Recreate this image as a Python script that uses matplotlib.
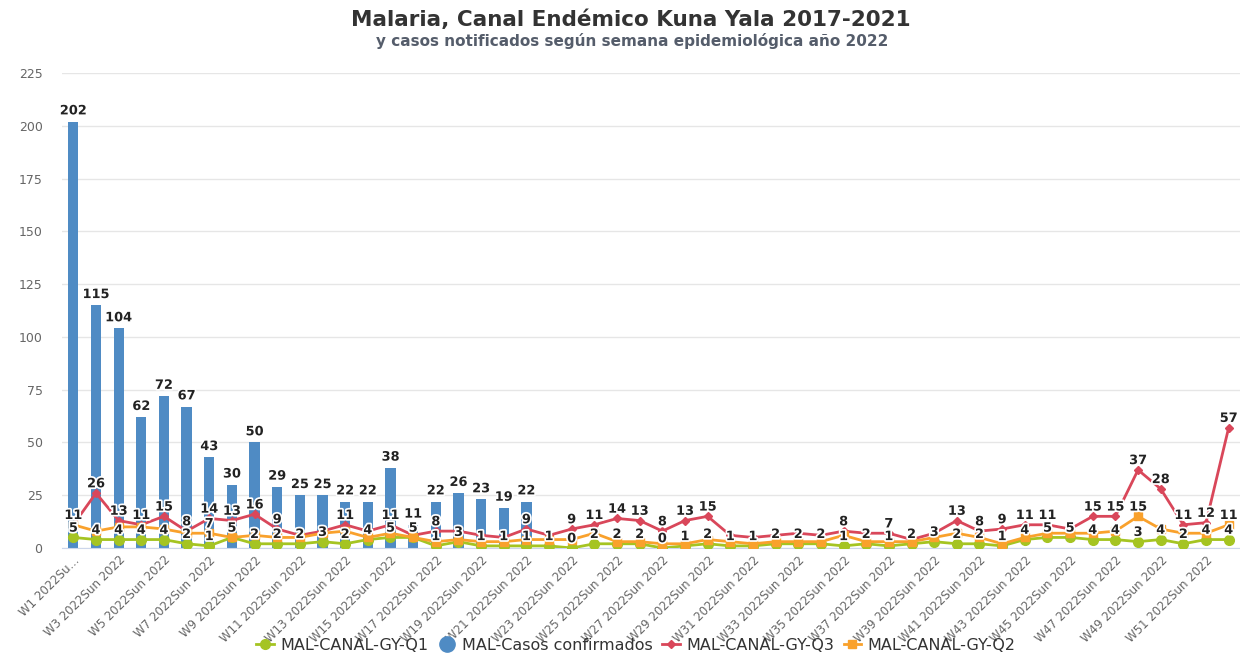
import numpy as np
import matplotlib.pyplot as plt
import matplotlib.patheffects as pe
from matplotlib.lines import Line2D

# categories
weeks = [f"W{i} 2022Sun 2022" for i in range(1, 53)]

# casos confirmados 2022 (only reported up to W21)
casos = [202, 115, 104, 62, 72, 67, 43, 30, 50, 29, 25, 25, 22, 22, 38, 11,
         22, 26, 23, 19, 22]

# canal endemico quartiles 2017-2021
q1 = [5, 4, 4, 4, 4, 2, 1, 5, 2, 2, 2, 3, 2, 4, 5, 5, 1, 3, 1, 1, 1, 1, 0, 2,
      2, 2, 0, 1, 2, 1, 1, 2, 2, 2, 1, 2, 1, 2, 3, 2, 2, 1, 4, 5, 5, 4, 4, 3,
      4, 2, 4, 4]
q2 = [11, 8, 10, 10, 9, 7, 7, 5, 6, 5, 5, 7, 8, 5, 7, 5, 3, 4, 3, 3, 4, 4, 4,
      7, 3, 3, 2, 2, 4, 3, 2, 3, 3, 3, 6, 3, 3, 3, 5, 7, 5, 2, 5, 7, 7, 7, 8,
      15, 9, 7, 7, 11]
q3 = [11, 26, 13, 11, 15, 8, 14, 13, 16, 9, 6, 8, 11, 8, 11, 6, 8, 8, 6, 5, 9,
      6, 9, 11, 14, 13, 8, 13, 15, 6, 5, 6, 7, 6, 8, 7, 7, 4, 7, 13, 8, 9, 11,
      11, 9, 15, 15, 37, 28, 11, 12, 57]

c_bar = "#4f8bc4"
c_q1 = "#a5c422"
c_q3 = "#d9475a"
c_q2 = "#f9a12c"

x = np.arange(len(weeks))

fig = plt.figure(figsize=(12.4, 6.54), dpi=100)
ax = fig.add_axes([62 / 1240, 1 - 548 / 654, 1 - 62 / 1240, (548 - 73) / 654])

ax.bar(x[:len(casos)], casos, width=0.45, color=c_bar, zorder=2)
ax.plot(x, q1, color=c_q1, lw=2, marker="o", ms=7, zorder=3)
ax.plot(x, q3, color=c_q3, lw=2, marker="D", ms=4.5, zorder=4)
ax.plot(x, q2, color=c_q2, lw=2, marker="s", ms=6, zorder=5)

ax.set_xlim(-0.5, len(weeks) - 0.5)
ax.set_ylim(0, 225)
ax.set_yticks(np.arange(0, 226, 25))
ax.grid(axis="y", color="#e6e6e6", lw=1, zorder=0)
for s in ["top", "right", "left"]:
    ax.spines[s].set_visible(False)
ax.spines["bottom"].set_color("#ccd6eb")
ax.tick_params(length=0)
ax.tick_params(axis="y", labelsize=9, labelcolor="#666666", pad=14)

xt = x[::2]
xl = [weeks[i] for i in xt]
xl[0] = "W1 2022Su…"
ax.set_xticks(xt)
ax.set_xticklabels(xl, rotation=45, ha="right", rotation_mode="anchor",
                   fontsize=8.5, color="#666666")
ax.tick_params(axis="x", pad=4)

# data labels, drawn in priority order and hidden if they collide
stroke = [pe.withStroke(linewidth=2.5, foreground="white")]
groups = []
for vals, off in [(q1, 2), (casos, 3), (q3, 2), (q2, 2)]:
    g = []
    for i, v in enumerate(vals):
        t = ax.annotate(str(v), (i, v), xytext=(0, off), textcoords="offset points",
                        ha="center", va="bottom", fontsize=9.3, fontweight="bold",
                        color="#222222", path_effects=stroke, zorder=10)
        g.append(t)
    groups.append(g)

fig.canvas.draw()
renderer = fig.canvas.get_renderer()
placed = []
for g in groups:
    for t in g:
        bb = t.get_window_extent(renderer)
        cx, cy = (bb.x0 + bb.x1) / 2, (bb.y0 + bb.y1) / 2
        hit = False
        for (px, py, pw) in placed:
            if abs(cx - px) < (bb.width + pw) / 2 and abs(cy - py) < 11.5:
                hit = True
                break
        if hit:
            t.set_visible(False)
        else:
            placed.append((cx, cy, bb.width))

fig.text(631 / 1240, 1 - 20 / 654, "Malaria, Canal Endémico Kuna Yala 2017-2021",
         ha="center", va="center", fontsize=15.5, fontweight="bold", color="#333333")
fig.text(632 / 1240, 1 - 41 / 654,
         "y casos notificados según semana epidemiológica año 2022",
         ha="center", va="center", fontsize=11, fontweight="bold", color="#555d6b")

handles = [
    Line2D([], [], color=c_q1, lw=2, marker="o", ms=7),
    Line2D([], [], color=c_bar, lw=0, marker="o", ms=11),
    Line2D([], [], color=c_q3, lw=2, marker="D", ms=4.5),
    Line2D([], [], color=c_q2, lw=2, marker="s", ms=6),
]
names = ["MAL-CANAL-GY-Q1", "MAL-Casos confirmados", "MAL-CANAL-GY-Q3", "MAL-CANAL-GY-Q2"]
fig.legend(handles, names, loc="center", bbox_to_anchor=(636 / 1240, 1 - 645 / 654),
           ncol=4, frameon=False, fontsize=11.5, handlelength=1.1, columnspacing=0.6,
           handletextpad=0.4, labelcolor="#333333")

fig.savefig("out.png", dpi=100)
